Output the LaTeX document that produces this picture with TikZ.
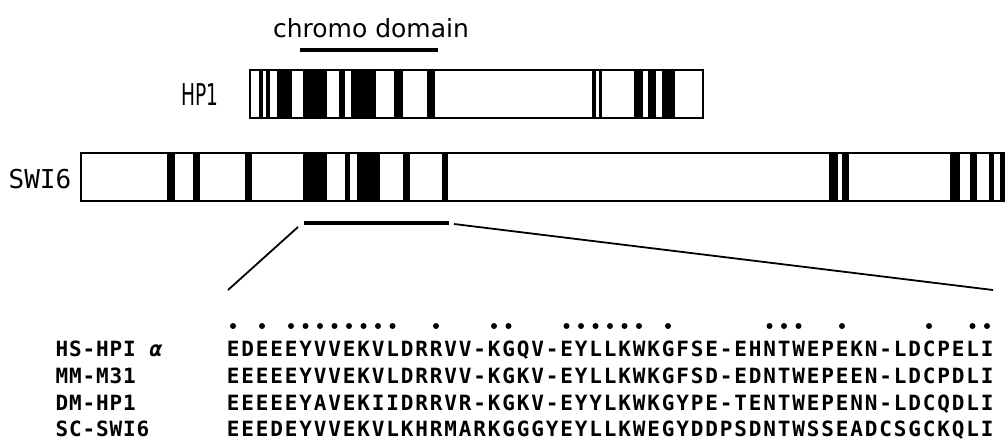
\documentclass[tikz,border=0pt]{standalone}
\usepackage{fontspec}
\usepackage{graphicx}
\newfontfamily\seqfont{DejaVu Sans Mono}
\newfontfamily\labfont{DejaVu Sans}
\newlength\seqpitch
\setlength\seqpitch{14.5pt}
\makeatletter
\newcommand\seqrow[1]{\seq@loop#1\relax}
\def\seq@loop#1{\ifx#1\relax\else\makebox[\seqpitch]{#1}\expandafter\seq@loop\fi}
\makeatother

\begin{document}
\begin{tikzpicture}[
x=1pt, y=-1pt,
bar/.style={
  draw,
  line width=1.8pt
  },
stripe/.style={
  fill=black
  },
seqtxt/.style={
  inner sep=0pt,
  anchor=base west,
  font=\seqfont\bfseries\fontsize{21}{22}\selectfont
  },
seqname/.style={
  inner sep=0pt,
  anchor=base west,
  font=\seqfont\bfseries\fontsize{21}{22}\selectfont
  },
zoomline/.style={
  line width=1.8pt
  }
]
\useasboundingbox (0,0) rectangle (1008,440);

% labels on top
\node[font=\labfont\fontsize{25}{26}\selectfont, anchor=base] (chromo) at (371,37) {chromo domain};
\draw[line width=3.5pt] (300,50) -- (438,50);
\node[font=\labfont\fontsize{30}{31}\selectfont, anchor=base] (hp1lab) at (200,105) {\scalebox{0.62}[1]{HP1}};
\node[font=\seqfont\fontsize{26}{27}\selectfont, anchor=base] (swilab) at (40,188) {SWI6};

% HP1 bar
\foreach \a/\b in {259/263,266/270,277/292,303/327,339/345,351/376,394/403,427/435,592/596,599/602,634/643,648/656,662/675}
  \fill[stripe] (\a,70) rectangle (\b,118);
\draw[bar] (250,70) rectangle (703,118);

% SWI6 bar
\foreach \a/\b in {167/175,193/200,245/252,303/327,345/350,357/380,403/410,442/448,829/838,842/849,950/960,970/977,989/994,1000/1004}
  \fill[stripe] (\a,153) rectangle (\b,201);
\draw[bar] (81,153) rectangle (1004,201);

% zoomed region
\draw[line width=4pt] (304,223) -- (449,223);
\coordinate (dom-l) at (298,227);
\coordinate (dom-r) at (454,224);
\coordinate (seq-l) at (228,290);
\coordinate (seq-r) at (993,290);
\draw[zoomline] (dom-l) -- (seq-l);
\draw[zoomline] (dom-r) -- (seq-r);

% identity marks
\foreach \c in {1,3,5,6,7,8,9,10,11,12,15,19,20,24,25,26,27,28,29,31,38,39,40,43,49,52,53}
  \fill ({225.75+14.5*(\c-0.5)},326) circle (3pt);

% sequences
\node[seqname] (hs-name) at (55,356) {\setlength\seqpitch{13.5pt}\seqrow{HS-HPI}\makebox[\seqpitch]{}{\itshape α}};
\node[seqname] (mm-name) at (55,383) {\setlength\seqpitch{13.5pt}\seqrow{MM-M31}};
\node[seqname] (dm-name) at (55,410) {\setlength\seqpitch{13.5pt}\seqrow{DM-HP1}};
\node[seqname] (sc-name) at (55,436) {\setlength\seqpitch{13.5pt}\seqrow{SC-SWI6}};
\node[seqtxt] (hs) at (225.75,356) {\seqrow{EDEEEYVVEKVLDRRVV-KGQV-EYLLKWKGFSE-EHNTWEPEKN-LDCPELI}};
\node[seqtxt] (mm) at (225.75,383) {\seqrow{EEEEEYVVEKVLDRRVV-KGKV-EYLLKWKGFSD-EDNTWEPEEN-LDCPDLI}};
\node[seqtxt] (dm) at (225.75,410) {\seqrow{EEEEEYAVEKIIDRRVR-KGKV-EYYLKWKGYPE-TENTWEPENN-LDCQDLI}};
\node[seqtxt] (sc) at (225.75,436) {\seqrow{EEEDEYVVEKVLKHRMARKGGGYEYLLKWEGYDDPSDNTWSSEADCSGCKQLI}};
\end{tikzpicture}
\end{document}
